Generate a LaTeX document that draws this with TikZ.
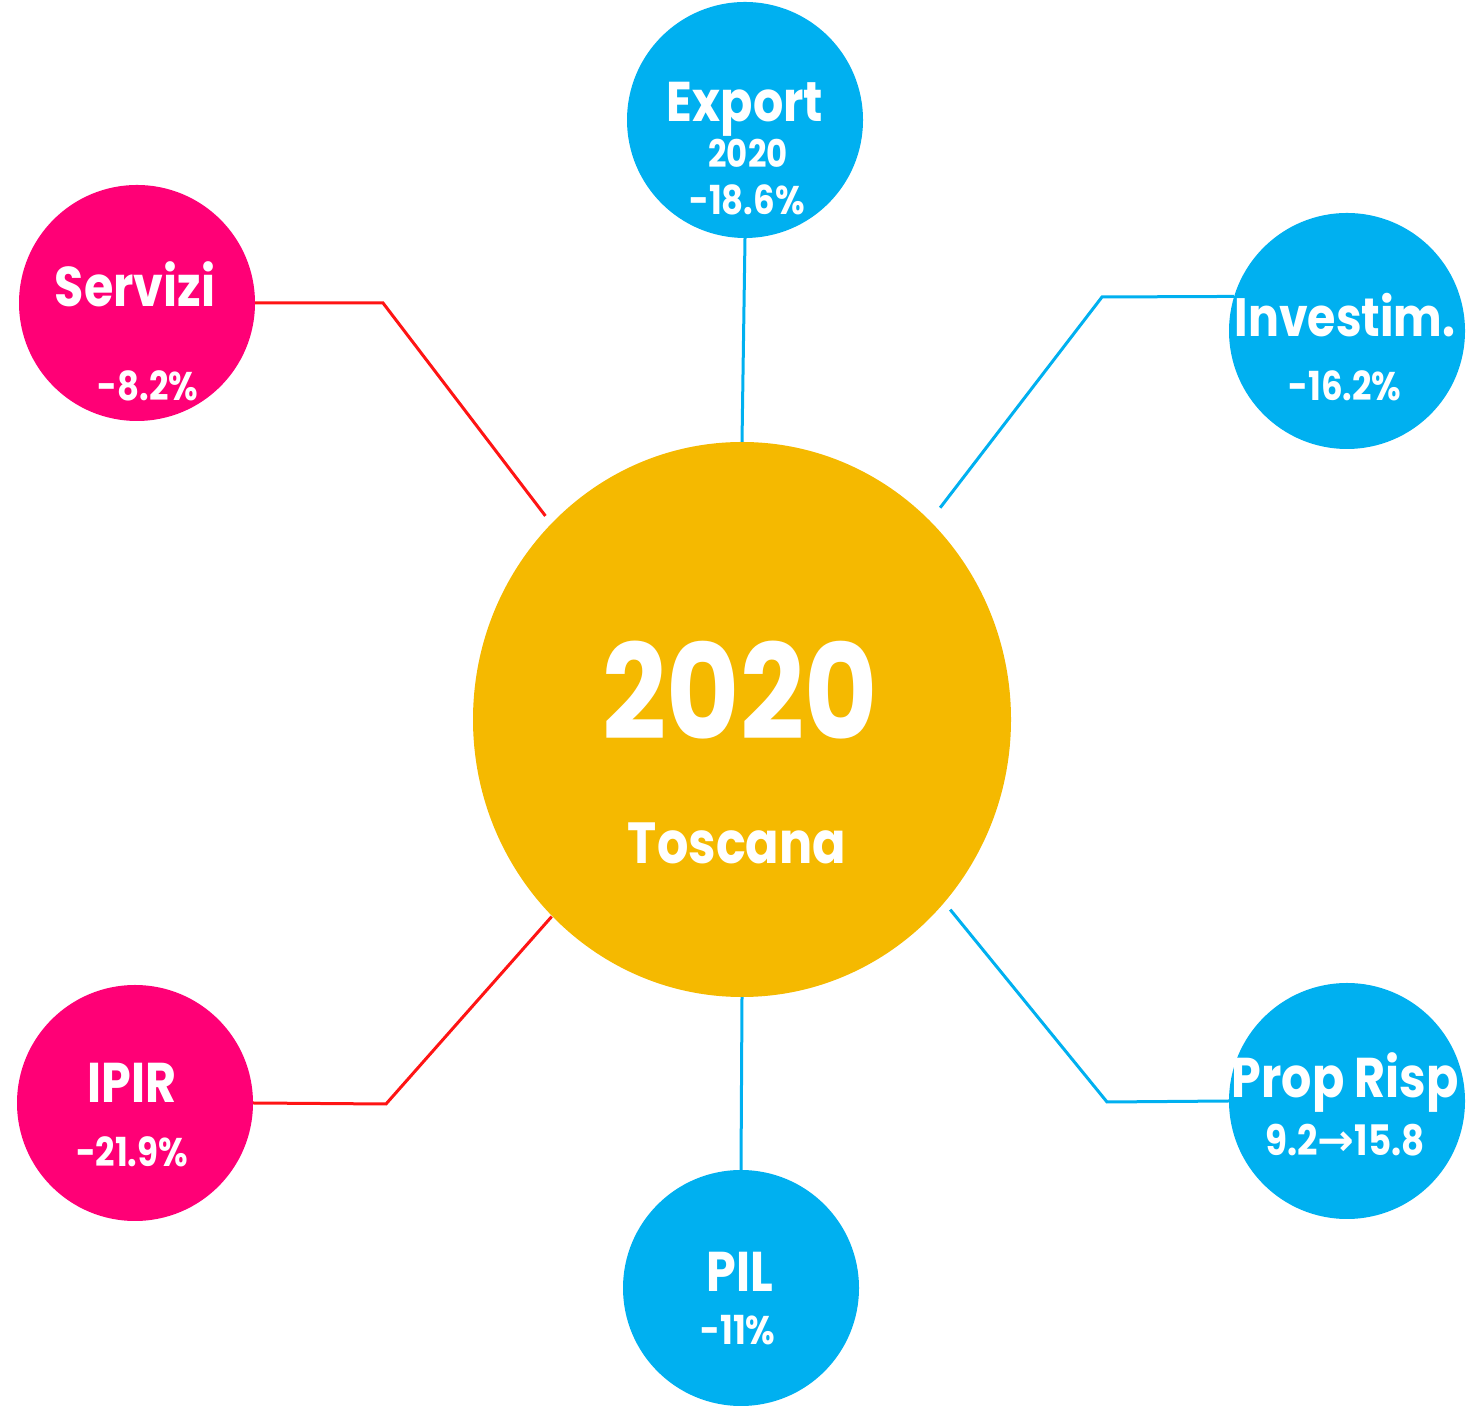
\documentclass[tikz,border=0pt]{standalone}
\usepackage{fontspec}
\setmainfont{Poppins}[FakeStretch=0.85]
\newfontfamily\arrowfont{DejaVu Sans}
\usetikzlibrary{calc,shapes.geometric}
\definecolor{pinkc}{RGB}{255,0,118}
\definecolor{bluec}{RGB}{0,176,240}
\definecolor{goldc}{RGB}{245,185,0}
\definecolor{redl}{RGB}{255,20,20}
\tikzset{
  bubble/.style={circle,minimum size=236pt,inner sep=0pt},
  bluebub/.style={bubble,fill=bluec},
  pinkbub/.style={bubble,fill=pinkc},
  ttl/.style={text=white,font=\bfseries\fontsize{56}{60}\selectfont,inner sep=0pt},
  val/.style={text=white,font=\bfseries\fontsize{40}{44}\selectfont,inner sep=0pt},
  bline/.style={draw=bluec,line width=3pt},
  rline/.style={draw=redl,line width=3pt},
}
\begin{document}
\begin{tikzpicture}[x=1pt,y=1pt]
\useasboundingbox (0,0) rectangle (1466,1407);
% center
\node[ellipse,fill=goldc,minimum width=538pt,minimum height=555pt,inner sep=0pt] (C) at (742,687.5) {};
\node[text=white,font=\bfseries\fontsize{132}{140}\selectfont,inner sep=0pt] (ct) at (740,717) {2020};
\node[text=white,font=\bfseries\fontsize{58}{64}\selectfont,inner sep=0pt] (cs) at (737,564) {Toscana};
% bubbles
\node[bluebub] (E) at (745,1287) {};
\node[pinkbub] (S) at (137,1104) {};
\node[bluebub] (I) at (1347,1076) {};
\node[pinkbub] (P) at (135,304) {};
\node[bluebub] (G) at (741,119) {};
\node[bluebub] (R) at (1347,306) {};
% texts
\node[ttl] (Et) at (745,1298) {Export};
\node[val,font=\bfseries\fontsize{38}{40}\selectfont] (Ey) at (748,1254) {2020};
\node[val] (Ev) at (747,1207) {-18.6\%};
\node[ttl] (St) at (135,1123) {Servizi};
\node[val] (Sv) at (148,1021) {-8.2\%};
\node[ttl,font=\bfseries\fontsize{54}{60}\selectfont] (It) at (1345,1092) {Investim.};
\node[val] (Iv) at (1345,1021) {-16.2\%};
\node[ttl] (Pt) at (132,324) {IPIR};
\node[val] (Pv) at (132,255) {-21.9\%};
\node[ttl] (Gt) at (740,135) {PIL};
\node[val] (Gv) at (738,77) {-11\%};
\node[ttl] (Rt) at (1345,324) {Prop Risp};
\node[val,font=\bfseries\fontsize{42}{44}\selectfont] (Rv) at (1345,267) {9.2{\arrowfont\fontsize{44}{44}\selectfont→}15.8};
% corner / end coordinates
\coordinate (Sk) at (383,1104);
\coordinate (Se) at ($(C.center)+(134:283)$);
\coordinate (Ik) at (1102,1110);
\coordinate (Ie) at ($(C.center)+(46.9:290)$);
\coordinate (Pk) at (386,303);
\coordinate (Pe) at ($(C.center)+(-134:274)$);
\coordinate (Rk) at (1107,305);
\coordinate (Re) at ($(C.center)+(-42.4:282)$);
% connectors
\draw[rline] (S.east) -- (Sk) -- (Se);
\draw[bline] (E.south) -- (C.north);
\draw[bline] (I.163) -- (Ik) -- (Ie);
\draw[rline] (P.east) -- (Pk) -- (Pe);
\draw[bline] (C.south) -- (G.north);
\draw[bline] (R.west) -- (Rk) -- (Re);
\end{tikzpicture}
\end{document}
